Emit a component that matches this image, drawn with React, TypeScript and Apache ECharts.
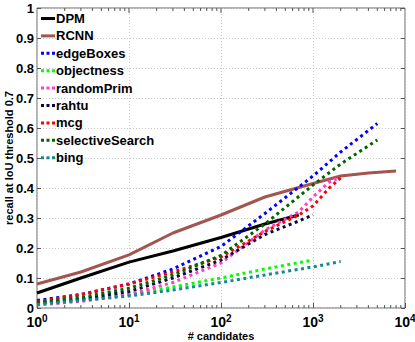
import React, { useEffect, useRef } from "react";
import * as echarts from "echarts";

const seriesNames = ["DPM", "RCNN", "edgeBoxes", "objectness", "randomPrim", "rahtu", "mcg", "selectiveSearch", "bing"];
const seriesColors = ["#000000", "#a3564f", "#0000ff", "#00ff00", "#ff3fc8", "#0b0b3a", "#ff0000", "#006400", "#0f8a96"];

const dpmX = [1, 3, 10, 30, 100, 300, 700];
const dpmY = [0.05, 0.1, 0.153, 0.19, 0.235, 0.28, 0.31];
const rcnnX = [1, 3, 10, 30, 100, 300, 1000, 2000, 4000, 8000];
const rcnnY = [0.08, 0.12, 0.177, 0.25, 0.31, 0.37, 0.415, 0.44, 0.45, 0.457];
const edgeX = [1, 3, 10, 30, 100, 300, 1000, 2000, 5000];
const edgeY = [0.025, 0.045, 0.08, 0.13, 0.205, 0.315, 0.44, 0.52, 0.615];
const objX = [1, 3, 10, 30, 100, 300, 1000];
const objY = [0.015, 0.03, 0.045, 0.07, 0.1, 0.13, 0.16];
const rpX = [1, 3, 10, 30, 100, 300, 700, 1000, 1500, 1800];
const rpY = [0.01, 0.022, 0.045, 0.085, 0.15, 0.26, 0.32, 0.37, 0.42, 0.43];
const rahtuX = [1, 3, 10, 30, 100, 300, 700, 1000];
const rahtuY = [0.015, 0.03, 0.055, 0.1, 0.16, 0.245, 0.29, 0.31];
const mcgX = [1, 3, 10, 30, 100, 300, 700, 1000, 1500, 2100];
const mcgY = [0.02, 0.045, 0.08, 0.12, 0.17, 0.255, 0.31, 0.34, 0.4, 0.44];
const ssX = [1, 3, 10, 30, 100, 300, 1000, 2000, 5000];
const ssY = [0.018, 0.035, 0.066, 0.11, 0.175, 0.28, 0.41, 0.48, 0.56];
const bingX = [1, 3, 10, 30, 100, 300, 1000, 2000];
const bingY = [0.012, 0.025, 0.04, 0.06, 0.085, 0.11, 0.137, 0.155];

const seriesXs = [dpmX, rcnnX, edgeX, objX, rpX, rahtuX, mcgX, ssX, bingX];
const seriesYs = [dpmY, rcnnY, edgeY, objY, rpY, rahtuY, mcgY, ssY, bingY];
const solidSeries = ["DPM", "RCNN"];

const majorTickValues = [10, 100, 1000];
const minorTickValues = [2, 3, 4, 5, 6, 7, 8, 9, 20, 30, 40, 50, 60, 70, 80, 90, 200, 300, 400, 500, 600, 700, 800, 900, 2000, 3000, 4000, 5000, 6000, 7000, 8000, 9000];

const yAxisName = "recall at IoU threshold 0.7";
const xAxisName = "# candidates";

const FONT = "Liberation Sans";
const solidIcon = "path://M0,0h14v3h-14z";
const dotIcon = "path://M0,0h3v3h-3zM5.5,0h3v3h-3zM11,0h3v3h-3z";

export default function App() {
  const ref = useRef<HTMLDivElement>(null);
  useEffect(() => {
    if (!ref.current) return;
    const chart = echarts.init(ref.current, null, { renderer: "svg" });
    const lineSeries = seriesNames.map((name, i) => ({
      name,
      type: "line",
      data: seriesXs[i].map((x, j) => [x, seriesYs[i][j]]),
      showSymbol: false,
      symbol: "none",
      color: seriesColors[i],
      smooth: false,
      lineStyle: solidSeries.includes(name)
        ? { width: 3, color: seriesColors[i], type: "solid" }
        : { width: 3, color: seriesColors[i], type: [3, 3.5], cap: "butt" },
      z: solidSeries.includes(name) ? 2 : 3,
    }));
    const tickData = [
      ...minorTickValues.map((v) => [v, 3, 1]),
      ...majorTickValues.map((v) => [v, 5, 0]),
    ];
    const tickSeries = {
      name: "xTicks",
      type: "custom",
      silent: true,
      data: tickData,
      renderItem: (params: any, api: any) => {
        const x = api.coord([api.value(0), 0.5])[0];
        const len = api.value(1);
        const minor = api.value(2) === 1;
        const cs = params.coordSys;
        const style = { stroke: "#555", lineWidth: 1 };
        const children: any[] = [
          { type: "line", shape: { x1: x, y1: cs.y, x2: x, y2: cs.y + len }, style },
        ];
        if (minor) {
          children.push({ type: "line", shape: { x1: x, y1: cs.y + cs.height, x2: x, y2: cs.y + cs.height - len }, style });
        }
        return { type: "group", children };
      },
      z: 1,
    };
    const option: any = {
      animation: false,
      backgroundColor: "#ffffff",
      grid: { left: 37, top: 8, right: 10, bottom: 34, show: true, borderColor: "#666", borderWidth: 1, backgroundColor: "transparent", outerBoundsMode: "none" },
      legend: {
        orient: "vertical",
        left: 41,
        top: 12,
        itemWidth: 14,
        itemHeight: 3,
        itemGap: 4.4,
        padding: 0,
        data: seriesNames.map((n) => ({ name: n, icon: solidSeries.includes(n) ? solidIcon : dotIcon })),
        textStyle: { fontFamily: FONT, fontWeight: "bold", fontSize: 13, color: "#000", lineHeight: 13, padding: [0, 0, 0, -4] },
        selectedMode: false,
      },
      xAxis: {
        type: "log",
        logBase: 10,
        min: 1,
        max: 10000,
        name: xAxisName,
        nameLocation: "middle",
        nameGap: 22,
        nameMoveOverlap: false,
        nameTextStyle: { fontFamily: FONT, fontWeight: "bold", fontSize: 11, color: "#000" },
        axisLine: { show: false },
        axisTick: { show: true, inside: true, length: 5, lineStyle: { color: "#555" } },
        splitLine: { show: true, lineStyle: { color: "#c8c8c8", type: [1, 2] } },
        axisLabel: {
          margin: 5,
          showMinLabel: true,
          showMaxLabel: true,
          formatter: (v: number) => `{b|10}{s|${Math.round(Math.log10(v))}}`,
          rich: {
            b: { fontFamily: FONT, fontWeight: "bold", fontSize: 14, color: "#000" },
            s: { fontFamily: FONT, fontWeight: "bold", fontSize: 10, color: "#000", verticalAlign: "top", padding: [0, 0, 8, 0] },
          },
        },
      },
      yAxis: [
        {
          type: "value",
          min: 0,
          max: 1,
          interval: 0.1,
          name: yAxisName,
          nameLocation: "middle",
          nameGap: 23,
          nameMoveOverlap: false,
          nameTextStyle: { fontFamily: FONT, fontWeight: "bold", fontSize: 11, color: "#000" },
          axisLine: { show: false },
          axisTick: { show: true, inside: true, length: 4, lineStyle: { color: "#555" } },
          splitLine: { show: true, lineStyle: { color: "#c8c8c8", type: [1, 2] } },
          axisLabel: {
            fontFamily: FONT, fontWeight: "bold", fontSize: 13, color: "#000", margin: 3,
            lineHeight: 11,
            showMinLabel: true, showMaxLabel: true, hideOverlap: false,
          },
        },
        {
          type: "value",
          min: 0,
          max: 1,
          interval: 0.1,
          position: "right",
          axisLine: { show: false },
          axisTick: { show: true, inside: true, length: 4, lineStyle: { color: "#555" } },
          axisLabel: { show: false },
          splitLine: { show: false },
        },
      ],
      series: [...lineSeries, tickSeries],
    };
    chart.setOption(option);
    return () => chart.dispose();
  }, []);
  return <div ref={ref} style={{ position: "fixed", left: 0, top: 0, width: 415, height: 342 }} />;
}
